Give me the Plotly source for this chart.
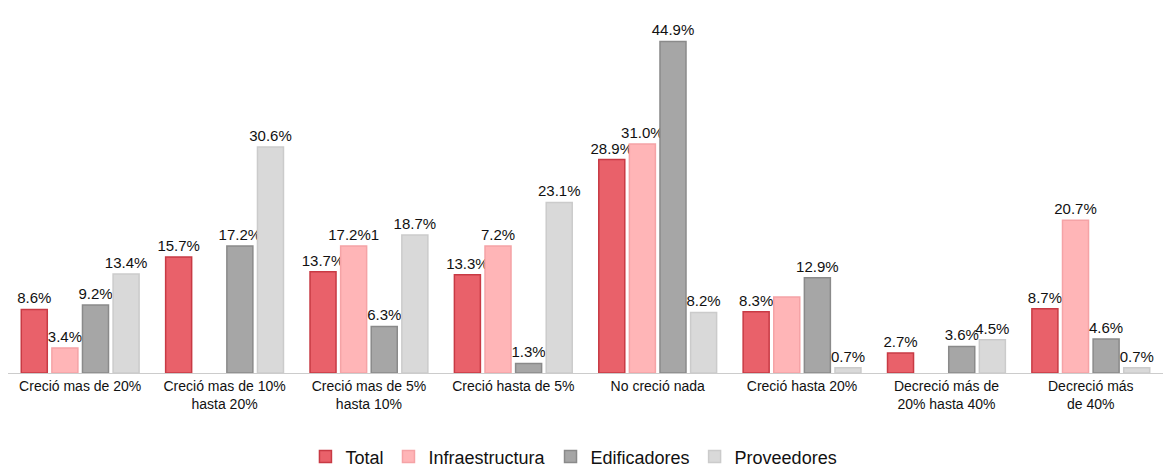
import plotly.graph_objects as go

categories = [
    "Creció mas de 20%",
    "Creció mas de 10%<br>hasta 20%",
    "Creció mas de 5%<br>hasta 10%",
    "Creció hasta de 5%",
    "No creció nada",
    "Creció hasta 20%",
    "Decreció más de<br>20% hasta 40%",
    "Decreció más<br>de 40%",
]

total = [8.6, 15.7, 13.7, 13.3, 28.9, 8.3, 2.7, 8.7]
infraestructura = [3.4, None, 17.2, 17.2, 31.0, 10.3, None, 20.7]
edificadores = [9.2, 17.2, 6.3, 1.3, 44.9, 12.9, 3.6, 4.6]
proveedores = [13.4, 30.6, 18.7, 23.1, 8.2, 0.7, 4.5, 0.7]

total_labels = ["8.6%", "15.7%", "13.7%", "13.3%", "28.9%", "8.3%", "2.7%", "8.7%"]
infra_labels = ["3.4%", "", "17.2%1", "7.2%", "31.0%", "", "", "20.7%"]
edif_labels = ["9.2%", "17.2%", "6.3%", "1.3%", "44.9%", "12.9%", "3.6%", "4.6%"]
prov_labels = ["13.4%", "30.6%", "18.7%", "23.1%", "8.2%", "0.7%", "4.5%", "0.7%"]

series = [
    ("Total", total, total_labels, "#e9616a", "#c83a44"),
    ("Infraestructura", infraestructura, infra_labels, "#ffb5b7", "#f5a3a6"),
    ("Edificadores", edificadores, edif_labels, "#a6a6a6", "#8a8a8a"),
    ("Proveedores", proveedores, prov_labels, "#d9d9d9", "#cbcbcb"),
]

FONT = "Liberation Sans, Arial, sans-serif"

fig = go.Figure()
for name, vals, labels, fill, line in series:
    fig.add_trace(go.Bar(
        name=name,
        x=categories,
        y=vals,
        text=labels,
        textposition="outside",
        constraintext="none",
        cliponaxis=False,
        textfont=dict(family=FONT, size=15, color="#111111"),
        marker=dict(color=fill, line=dict(color=line, width=1.5)),
        hoverinfo="skip",
    ))

fig.update_layout(
    width=1164,
    height=470,
    barmode="group",
    bargap=0.152,
    bargroupgap=0.15,
    paper_bgcolor="white",
    plot_bgcolor="white",
    margin=dict(l=8, r=1, t=20, b=97, autoexpand=False),
    font=dict(family=FONT, color="#111111"),
    showlegend=True,
    legend=dict(
        orientation="h",
        x=0.49,
        xanchor="center",
        xref="paper",
        y=-0.185,
        yref="paper",
        yanchor="top",
        font=dict(family=FONT, size=18, color="#111111"),
        itemwidth=30,
        traceorder="normal",
    ),
    xaxis=dict(
        automargin=False,
        showgrid=False,
        showline=True,
        linecolor="#cccccc",
        linewidth=1,
        ticks="",
        tickfont=dict(family=FONT, size=14, color="#111111"),
        tickangle=0,
    ),
    yaxis=dict(
        automargin=False,
        range=[0, 47.8],
        showgrid=False,
        zeroline=False,
        showticklabels=False,
        showline=False,
        ticks="",
    ),
)

fig.write_html("out.html")
